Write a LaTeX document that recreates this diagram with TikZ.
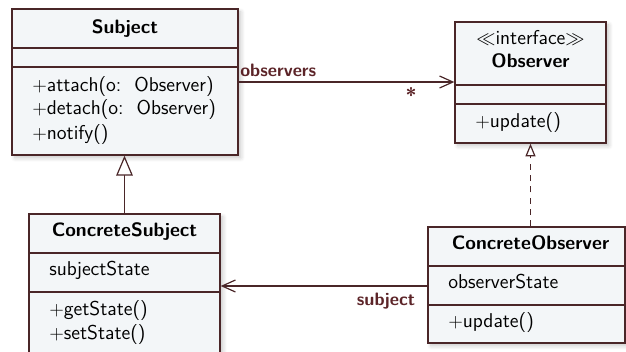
\documentclass[tikz,border=0pt]{standalone}
\usetikzlibrary{arrows.meta,shadows.blur,fit}
\definecolor{linec}{RGB}{74,38,40}
\definecolor{boxfill}{RGB}{243,246,248}
\definecolor{labc}{RGB}{92,36,40}
\begin{document}
\begin{tikzpicture}[x=0.75pt,y=-0.75pt,
  font=\sffamily\fontsize{15}{18}\selectfont,
  umlbox/.style={draw=linec, line width=1pt, fill=boxfill, inner sep=0pt,
    blur shadow={shadow xshift=2.2pt, shadow yshift=-2.2pt, shadow blur radius=3pt, shadow blur steps=8, shadow opacity=22}},
  divider/.style={draw=linec, line width=0.9pt},
  classname/.style={font=\sffamily\bfseries\fontsize{14.5}{17}\selectfont, inner sep=0pt, text height=10pt, text depth=3pt},
  member/.style={anchor=west, inner sep=0pt, text height=10pt, text depth=3pt},
  rolelabel/.style={font=\sffamily\bfseries\fontsize{13.5}{16}\selectfont, text=labc, inner sep=0pt},
  assoc/.style={draw=linec, line width=0.9pt, -{Straight Barb[length=10pt, width=9pt, line width=0.9pt]}},
  gener/.style={draw=linec, line width=0.9pt, -{Triangle[length=15pt, width=12.5pt, fill=white, line width=0.9pt]}},
  realiz/.style={draw=linec, line width=0.9pt, dash pattern=on 4.5pt off 4pt, -{Triangle[length=9.5pt, width=7.5pt, fill=white, line width=0.9pt, sep=0pt]}}
]
\useasboundingbox (0,0) rectangle (626,351);
\clip (0,0) rectangle (626,351);

% Subject
\node[umlbox, fit={(12,9) (238,155)}] (subj) {};
\draw[divider] (subj.west |- 0,48) -- (subj.east |- 0,48);
\draw[divider] (subj.west |- 0,67) -- (subj.east |- 0,67);
\node[classname] (subjname) at (125,29) {Subject};
\node[member] (subjm1) at (32,87) {$+$attach(o:\ \ Observer)};
\node[member] (subjm2) at (32,110) {$+$detach(o:\ \ Observer)};
\node[member] (subjm3) at (32,135) {$+$notify()};

% Observer
\node[umlbox, fit={(455,22) (606,143)}] (obs) {};
\draw[divider] (obs.west |- 0,85) -- (obs.east |- 0,85);
\draw[divider] (obs.west |- 0,104) -- (obs.east |- 0,104);
\node[inner sep=0pt, text height=10pt, text depth=3pt] (obsster) at (530.5,40) {$\ll$interface$\gg$};
\node[classname] (obsname) at (530.5,63) {Observer};
\node[member] (obsm1) at (475,123) {$+$update()};

% ConcreteSubject
\node[umlbox, fit={(29,214) (220,380)}] (csubj) {};
\draw[divider] (csubj.west |- 0,253) -- (csubj.east |- 0,253);
\draw[divider] (csubj.west |- 0,292) -- (csubj.east |- 0,292);
\node[classname] (csubjname) at (124.5,232) {ConcreteSubject};
\node[member] (csubja1) at (49,271) {subjectState};
\node[member] (csubjm1) at (49,311) {$+$getState()};
\node[member] (csubjm2) at (49,335) {$+$setState()};

% ConcreteObserver
\node[umlbox, fit={(428,227) (625,343)}] (cobs) {};
\draw[divider] (cobs.west |- 0,266) -- (cobs.east |- 0,266);
\draw[divider] (cobs.west |- 0,305) -- (cobs.east |- 0,305);
\node[classname] (cobsname) at (530.5,245) {ConcreteObserver};
\node[member] (cobsa1) at (448,284) {observerState};
\node[member] (cobsm1) at (448,323) {$+$update()};

% Connectors
\draw[assoc] (subj.east |- 0,82) -- (obs.west |- 0,82);
\node[rolelabel, anchor=west] (lobs) at (240,70) {observers};
\node[rolelabel, font=\sffamily\bfseries\fontsize{15}{17}\selectfont] (lstar) at (411,95) {*};

\draw[gener] (csubj.north) -- (csubj.north |- subj.south);
\draw[realiz] (cobs.north -| obs.south) -- (obs.south);

\draw[assoc] (cobs.west |- 0,286) -- (csubj.east |- 0,286);
\node[rolelabel] (lsubj) at (386,301) {subject};
\end{tikzpicture}
\end{document}
